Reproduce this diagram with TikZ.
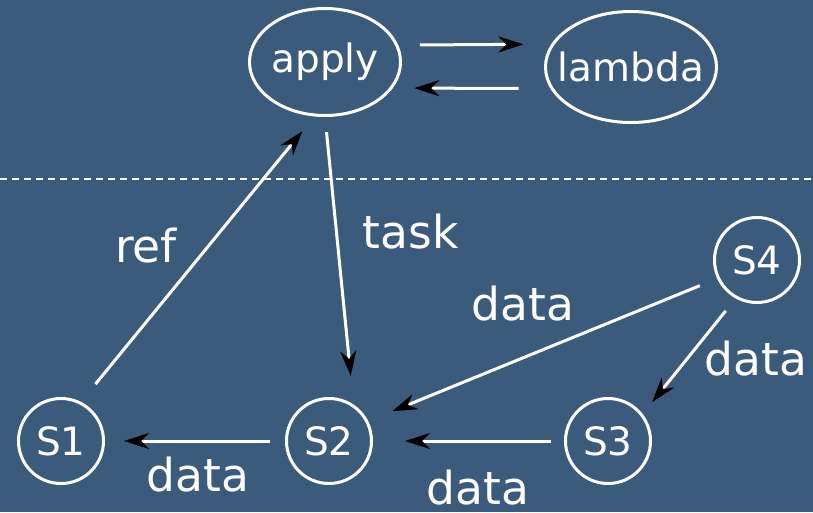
\documentclass[tikz,border=0pt]{standalone}
\usepackage{fontspec}
\setmainfont{DejaVu Sans}
\usetikzlibrary{arrows.meta,shapes.geometric}
\definecolor{bgblue}{HTML}{3B5B7C}
\begin{document}
\begin{tikzpicture}[x=1pt,y=-1pt,
  every node/.style={text=white},
  ell/.style={ellipse, draw=white, line width=3pt, inner sep=0pt, font=\fontsize{39}{44}\selectfont},
  stn/.style={circle, draw=white, line width=3pt, inner sep=0pt, minimum size=85pt, font=\fontsize{39}{44}\selectfont},
  lbl/.style={anchor=base, inner sep=0pt, font=\fontsize{45.5}{50}\selectfont},
  arr/.style={draw=white, line width=3pt, -{Stealth[length=25pt,width=16pt,inset=8pt,color=black]}},
  sep/.style={draw=white, line width=1.5pt, dash pattern=on 7pt off 5pt}
]
\fill[bgblue] (0,0) rectangle (813,512);
\useasboundingbox (0,0) rectangle (813,512);

\node[ell, minimum width=151pt, minimum height=107pt] (apply) at (325,62) {\makebox[0pt]{apply}};
\node[ell, minimum width=171pt, minimum height=111pt] (lambda) at (631,67) {\makebox[0pt]{lambda}};

\node[stn] (s1) at (61,441) {S1};
\node[stn] (s2) at (329,441) {S2};
\node[stn] (s3) at (608,441) {S3};
\node[stn] (s4) at (757,260) {S4};

\coordinate (dl) at (0,179);
\coordinate (dr) at (813,179);
\draw[sep] (dl) -- (dr);

\draw[arr, shorten <=21.5pt, shorten >=27.9pt] (apply.13.9) -- (lambda.164.7);
\draw[arr, shorten <=31.9pt, shorten >=21.4pt] (lambda.195.3) -- (apply.-21);

\draw[arr, shorten <=22.8pt, shorten >=18.8pt] (s1.63.5) -- (apply.-101.5);
\draw[arr, shorten <=15.2pt, shorten >=28.8pt] (apply.-90) -- (s2.56);
\draw[arr, shorten <=18.7pt, shorten >=25.9pt] (s4.205.6) -- (s2.27.5);
\draw[arr, shorten <=15.9pt, shorten >=15.1pt] (s4.241.5) -- (s3.38.4);
\draw[arr, shorten <=13pt, shorten >=32pt] (s3.180) -- (s2.0);
\draw[arr, shorten <=15pt, shorten >=19pt] (s2.180) -- (s1.0);

\node[lbl] (lref) at (146,262) {ref};
\node[lbl] (ltask) at (410.5,248) {task};
\node[lbl] (ld1) at (523,320) {data};
\node[lbl] (ld2) at (756,375) {data};
\node[lbl] (ld3) at (198,491.7) {data};
\node[lbl] (ld4) at (478,504) {data};
\end{tikzpicture}
\end{document}
